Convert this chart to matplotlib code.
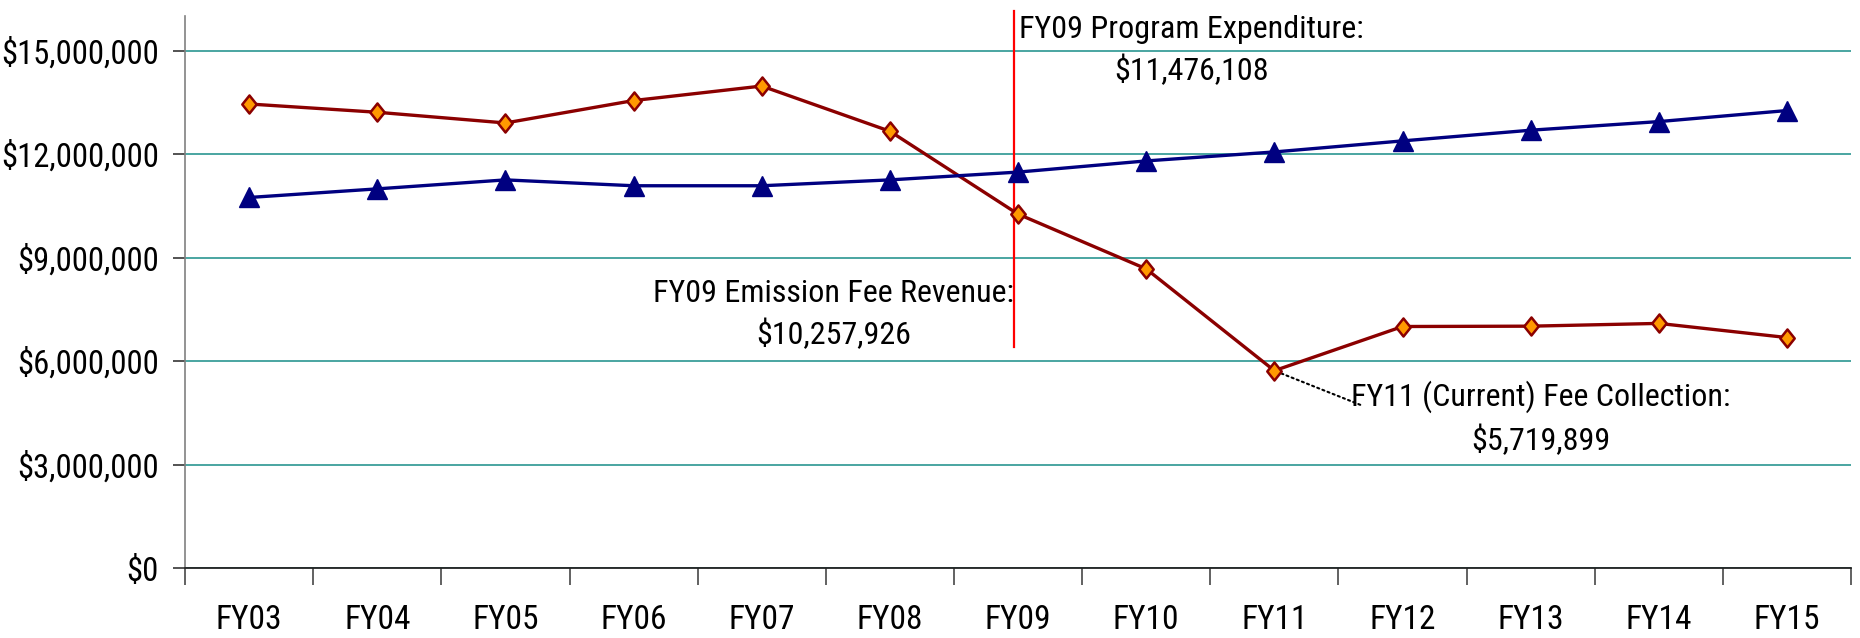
import numpy as np
import matplotlib
matplotlib.use("Agg")
import matplotlib.pyplot as plt
from matplotlib.path import Path
from matplotlib.ticker import FuncFormatter, FixedLocator

years = ["FY03", "FY04", "FY05", "FY06", "FY07", "FY08", "FY09",
         "FY10", "FY11", "FY12", "FY13", "FY14", "FY15"]
fee_revenue = [13450000, 13210000, 12900000, 13550000, 13970000, 12660000,
               10257926, 8670000, 5719899, 7000000, 7010000, 7090000, 6680000]
program_expenditure = [10740000, 10990000, 11250000, 11080000, 11080000,
                       11250000, 11476108, 11800000, 12060000, 12380000,
                       12690000, 12940000, 13260000]

plt.rcParams['font.family'] = ['Roboto Condensed', 'Archivo Narrow', 'DejaVu Sans']

fig = plt.figure(figsize=(18.6, 6.38), dpi=100)
ax = fig.add_axes([0.0995, 0.1097, 0.8957, 0.8652])

x = np.arange(len(years))

# tall diamond marker
diamond = Path([(0, 1), (0.8, 0), (0, -1), (-0.8, 0), (0, 1)],
               [Path.MOVETO, Path.LINETO, Path.LINETO, Path.LINETO, Path.CLOSEPOLY])

ax.plot(x, fee_revenue, color='#8B0000', lw=2.4, marker=diamond, ms=13,
        mfc='#FF9900', mec='#8B0000', mew=1.8, zorder=4)
ax.plot(x, program_expenditure, color='#000080', lw=2.4, marker='^', ms=14,
        mfc='#000080', mec='#000080', zorder=4)

ax.set_xlim(-0.5, len(years) - 0.5)
ax.set_ylim(0, 16000000)

ax.set_yticks(np.arange(0, 15000001, 3000000))
ax.yaxis.set_major_formatter(FuncFormatter(lambda v, p: f"${v:,.0f}"))
ax.grid(axis='y', color='#3A9E9A', lw=1.3)
ax.set_axisbelow(True)

ax.set_xticks(x)
ax.set_xticklabels(years)
ax.xaxis.set_minor_locator(FixedLocator(np.arange(-0.5, len(years), 1.0)))
ax.tick_params(axis='x', which='major', length=0, pad=26, labelsize=24)
ax.tick_params(axis='x', which='minor', length=12, width=1.3, color='#555555')
ax.tick_params(axis='y', length=9, width=1.3, color='#444444', pad=10, labelsize=23.5)

for s in ['top', 'right']:
    ax.spines[s].set_visible(False)
ax.spines['left'].set_color('#808080')
ax.spines['left'].set_linewidth(1.2)
ax.spines['bottom'].set_color('#222222')
ax.spines['bottom'].set_linewidth(1.3)

# FY09 marker line
i09 = years.index("FY09")
ax.plot([i09 - 0.03, i09 - 0.03], [6400000, 16150000], color='#FF0000', lw=1.6,
        clip_on=False, zorder=3)

ax.text(7.35, 15000000, "FY09 Program Expenditure:\n$11,476,108", ha='center',
        va='center', fontsize=23, linespacing=1.45)
ax.text(4.56, 7350000, "FY09 Emission Fee Revenue:\n$10,257,926", ha='center',
        va='center', fontsize=23, linespacing=1.45)

i11 = years.index("FY11")
ax.text(10.08, 4340000, "FY11 (Current) Fee Collection:\n$5,719,899", ha='center',
        va='center', fontsize=23, linespacing=1.5)
ax.annotate('', xy=(i11, fee_revenue[i11]), xytext=(8.67, 4730000),
            arrowprops=dict(arrowstyle='-', linestyle=':', color='black', lw=1.5,
                            shrinkA=0, shrinkB=5))

fig.savefig("out.png", dpi=100)
